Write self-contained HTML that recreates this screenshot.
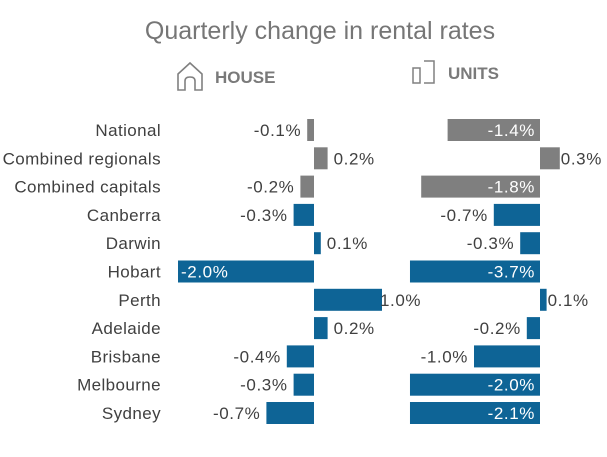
<!DOCTYPE html>
<html><head><meta charset="utf-8"><style>
body{margin:0;background:#fff;width:607px;height:452px;overflow:hidden;font-family:"Liberation Sans",sans-serif}
</style></head><body>
<svg id="c" width="607" height="452" style="font-family:'Liberation Sans',sans-serif">
<text x="320" y="39" text-anchor="middle" font-size="25" fill="#767676">Quarterly change in rental rates</text>
<g>
<path d="M178 90 V74 L190 63 L202 74 V90 H195 V81 Q195 77 190 77 Q185 77 185 81 V90 Z" fill="none" stroke="#808080" stroke-width="1.6"/>
<text x="215" y="83" font-size="17" font-weight="bold" fill="#7a7a7a">HOUSE</text>
</g>
<g>
<rect x="413" y="68" width="7" height="15" fill="none" stroke="#808080" stroke-width="1.5"/>
<path d="M424 83 H434 V61 H424" fill="none" stroke="#808080" stroke-width="1.5"/>
<text x="448" y="79" font-size="17" font-weight="bold" fill="#7a7a7a">UNITS</text>
</g>
</svg>
<script>
const categories=["National","Combined regionals","Combined capitals","Canberra","Darwin","Hobart","Perth","Adelaide","Brisbane","Melbourne","Sydney"];
const houseValues=[-0.1,0.2,-0.2,-0.3,0.1,-2.0,1.0,0.2,-0.4,-0.3,-0.7];
const unitValues=[-1.4,0.3,-1.8,-0.7,-0.3,-3.7,0.1,-0.2,-1.0,-2.0,-2.1];
const aggregateRows=[true,true,true,false,false,false,false,false,false,false,false];
const svg=document.getElementById('c');
const NS='http://www.w3.org/2000/svg';
const y0=130,step=28.3,bh=22,fs=17;
function yPos(i){return y0+i*step;}
function hx(v){return 314+v*68;}
function ux(v){return 540+Math.max(v,-1.97)*66;}
function mk(t,a){const e=document.createElementNS(NS,t);for(const k in a)e.setAttribute(k,a[k]);svg.appendChild(e);return e;}
function fmt(v){return v.toFixed(1)+'%';}
categories.forEach((c,i)=>{
  const y=yPos(i);
  const t=mk('text',{x:161,y:y+6,'text-anchor':'end','font-size':fs,'letter-spacing':0.4,fill:'#404040'});
  t.textContent=c;
  
  
  const col=aggregateRows[i]?'#7f7f7f':'#0e6496';
  let v=houseValues[i],a=hx(0),b=hx(v);
  let w=Math.abs(b-a);
  const r=mk('rect',{x:Math.min(a,b),y:y-bh/2,width:w,height:bh,fill:col});
  
  
  let lt;
  if(w>90){lt=mk('text',{x:Math.min(a,b)+3,y:y+6,'text-anchor':'start','font-size':fs,'letter-spacing':0.6,fill:'#fff'});}
  else if(v<0){lt=mk('text',{x:b-6,y:y+6,'text-anchor':'end','font-size':fs,'letter-spacing':0.6,fill:'#404040'});}
  else{lt=mk('text',{x:b+(w>50?-2:6),y:y+6,'text-anchor':'start','font-size':fs,'letter-spacing':0.6,fill:'#404040'});}
  lt.textContent=fmt(v);
  
  
  v=unitValues[i];a=ux(0);b=ux(v);w=Math.abs(b-a);
  const r2=mk('rect',{x:Math.min(a,b),y:y-bh/2,width:w,height:bh,fill:col});
  
  
  let lt2;
  if(w>85){lt2=mk('text',{x:a-5,y:y+6,'text-anchor':'end','font-size':fs,'letter-spacing':0.6,fill:'#fff'});}
  else if(v<0){lt2=mk('text',{x:b-6,y:y+6,'text-anchor':'end','font-size':fs,'letter-spacing':0.6,fill:'#404040'});}
  else{lt2=mk('text',{x:b+1,y:y+6,'text-anchor':'start','font-size':fs,'letter-spacing':0.6,fill:'#404040'});}
  lt2.textContent=fmt(v);
  
  
});
</script>
</body></html>
